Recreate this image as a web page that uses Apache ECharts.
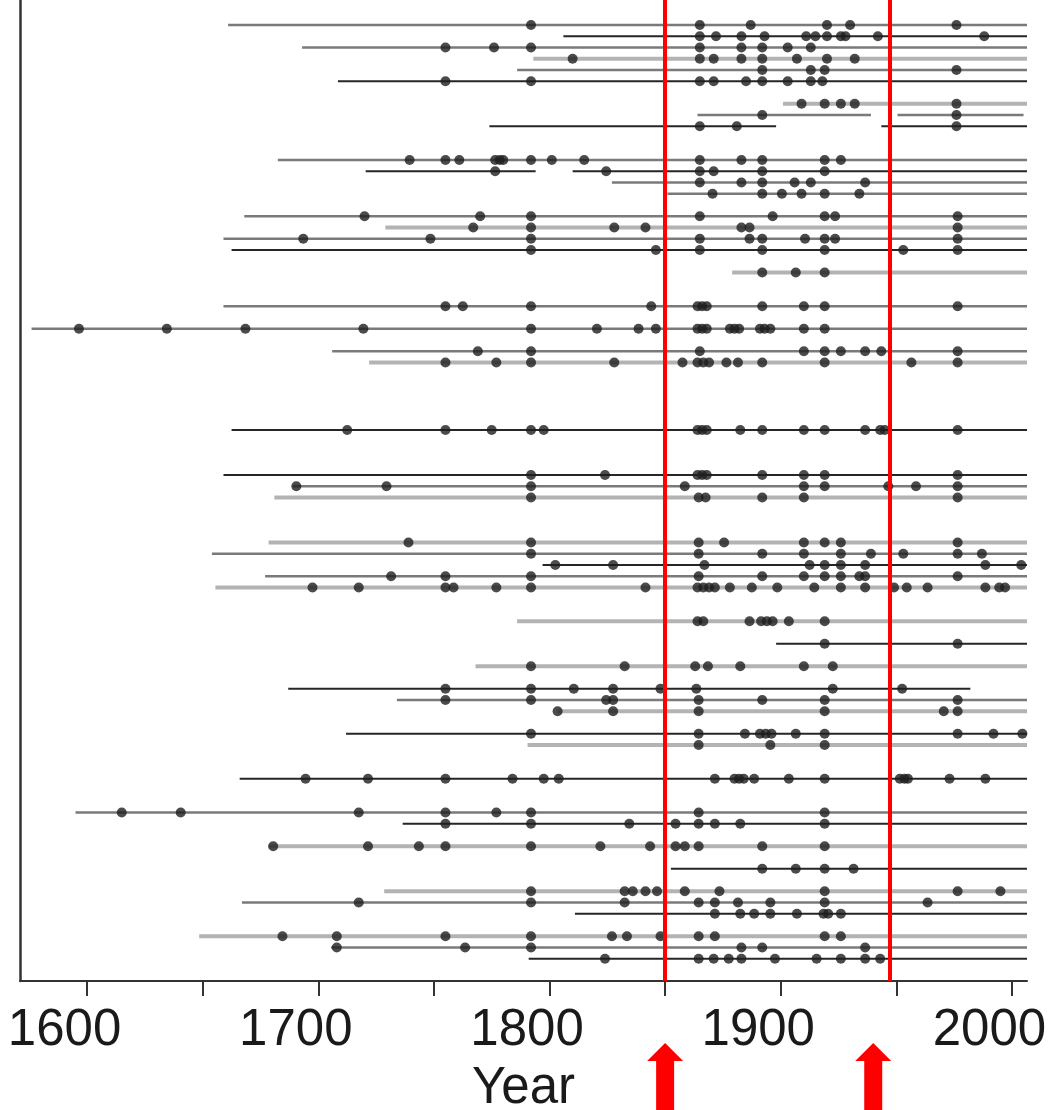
<!DOCTYPE html>
<html><head><meta charset="utf-8">
<script src="https://cdn.jsdelivr.net/npm/echarts@6/dist/echarts.min.js"></script>
<style>html,body{margin:0;padding:0;background:#fff;overflow:hidden}#c{width:1056px;height:1110px}</style>
</head><body><div id="c"></div>
<script>
// ---- data ----
const xTickValues = [1600,1650,1700,1750,1800,1850,1900,1950,2000];
const xLabelValues = [1600,1700,1800,1900,2000];
const refLineYears = [1850, 1947];
const arrowYears = [1850, 1940];

const rowSlot = [0,1,2,3,4,5,7,8,9,12,13,14,15,17,18,19,20,22,25,27,29,30,36,40,41,42,46,47,48,49,50,53,55,57,59,60,61,63,64,67,70,71,73,75,77,78,79,81,82,83];
const rowTone = ['M','D','M','L','M','D','L','M','D',
  'M','D','M','M','M','L','M','D','L',
  'M','M','M','L','D',
  'D','M','L','L','M','D','M','L',
  'L','D','L','D','M','L','D','L',
  'D','M','D','L','D','L','M','D','L','M','D'];
const rowSegments = [
  [[1661,2006.5]],
  [[1806,2006.5]],
  [[1693,2006.5]],
  [[1793,2006.5]],
  [[1786,2006.5]],
  [[1708.5,2006.5]],
  [[1901,2006.5]],
  [[1864,1939],[1950.5,2005]],
  [[1774,1898],[1943.5,2006.5]],
  [[1682.5,2006.5]],
  [[1720.5,1794],[1810,2006.5]],
  [[1827,2006.5]],
  [[1851,2006.5]],
  [[1668,2006.5]],
  [[1729,2006.5]],
  [[1659,2006.5]],
  [[1662.5,2006.5]],
  [[1879,2006.5]],
  [[1659,2006.5]],
  [[1576,2006.5]],
  [[1706,2006.5]],
  [[1722,2006.5]],
  [[1662.5,2006.5]],
  [[1659,2006.5]],
  [[1689,2006.5]],
  [[1681,2006.5]],
  [[1678.5,2006.5]],
  [[1654,2006.5]],
  [[1797,2006.5]],
  [[1677,2006.5]],
  [[1655.5,2006.5]],
  [[1786,2006.5]],
  [[1898,2006.5]],
  [[1768,2006.5]],
  [[1687,1982]],
  [[1734,2006.5]],
  [[1803.5,2006.5]],
  [[1712,2006.5]],
  [[1790.5,2006.5]],
  [[1666,2006.5]],
  [[1595,2006.5]],
  [[1736.5,2006.5]],
  [[1678.5,2006.5]],
  [[1852.5,2006.5]],
  [[1728.5,2006.5]],
  [[1667,2006.5]],
  [[1811,2006.5]],
  [[1648.5,2006.5]],
  [[1705.5,2006.5]],
  [[1791,2006.5]]
];
const rowDots = [
  [1792,1865,1887,1920,1930,1976],
  [1865,1872,1883,1893,1911,1915,1920,1926,1928,1942,1988],
  [1755,1776,1792,1865,1883,1892,1903,1913],
  [1810,1865,1871,1883,1892,1907,1920,1932],
  [1892,1913,1919,1976],
  [1755,1792,1865,1871,1885,1892,1903,1913,1918],
  [1909,1919,1926,1932,1976],
  [1892,1976],
  [1865,1881,1976],
  [1739.5,1755,1761,1776.5,1778.5,1780,1792,1801,1815,1865,1883,1892,1919,1926],
  [1776.5,1824.5,1865,1871,1892,1919],
  [1865,1883,1892,1906,1913,1936.5],
  [1870.5,1892,1900.5,1909,1919,1934],
  [1720,1770,1792,1865,1896.5,1919,1923.5,1976.5],
  [1767,1792,1828,1841.5,1883,1886.5,1976.5],
  [1693.5,1748.5,1792,1865,1886.5,1892,1910.5,1919,1923.5,1976.5],
  [1792,1846,1865,1892,1919,1953,1976.5],
  [1892,1906.5,1919],
  [1755,1762.5,1792,1844,1864,1866,1868,1892,1910,1919,1976.5],
  [1596.5,1634.5,1668.5,1719.5,1792,1820.5,1838.5,1846,1864,1866,1868,1878,1880,1882,1891,1893,1895.5,1910,1919],
  [1769,1792,1865,1910,1919,1926,1936.5,1943.5,1976.5],
  [1755,1777,1792,1828,1857.5,1864,1866.5,1869,1876.5,1881.5,1892,1919,1956.5,1976.5],
  [1712.5,1755,1775,1792,1797.5,1864,1866,1868,1882.5,1892,1910,1919,1936.5,1943,1945,1976.5],
  [1792,1824,1864,1866,1868,1892,1910,1919,1976.5],
  [1690.5,1729.5,1792,1858.5,1910,1919,1946.5,1958.5,1976.5],
  [1792,1864.5,1867.5,1892,1910,1976.5],
  [1739,1792,1864.5,1875.5,1910,1919,1926,1976.5],
  [1792,1864.5,1892,1910,1926,1939,1953,1976.5,1987],
  [1802.5,1827.5,1867,1912.5,1919,1926,1936.5,1988.5,2004],
  [1731.5,1755,1792,1864.5,1892,1910,1919,1926,1934,1936.5,1976.5],
  [1697.5,1717.5,1755,1758.5,1777,1792,1841.5,1864,1866.5,1869,1871.5,1878,1887.5,1898.5,1914.5,1926,1936.5,1949,1954.5,1963.5,1988.5,1994.5,1997],
  [1864,1866.5,1886.5,1891.5,1894,1896.5,1903.5,1919],
  [1919,1976.5],
  [1792,1832.5,1863,1868.5,1882.5,1910,1922.5],
  [1755,1792,1810.5,1827.5,1848,1863.5,1922.5,1952.5],
  [1755,1792,1824.5,1827.5,1864.5,1892,1919,1976.5],
  [1803.5,1827.5,1864.5,1919,1970.5,1976.5],
  [1792,1864.5,1884.5,1891,1893.5,1896,1906.5,1919,1976.5,1992,2004.5],
  [1864.5,1895.5,1919],
  [1694.5,1721.5,1755,1784,1797.5,1804,1871.5,1880,1882,1884,1888.5,1903.5,1919,1951.5,1953.5,1955,1973,1988.5],
  [1615,1640.5,1717.5,1755,1777,1792,1864.5,1919],
  [1755,1792,1834.5,1854.5,1864.5,1871.5,1882.5,1919],
  [1680.5,1721.5,1743.5,1755,1792,1822,1843.5,1854.5,1858.5,1864.5,1892,1919],
  [1892,1906.5,1919,1931.5],
  [1792,1832.5,1836,1841.5,1846.5,1858.5,1873.5,1919,1976.5,1995],
  [1717.5,1792,1832.5,1864.5,1871.5,1881.5,1895.5,1919,1963.5],
  [1871.5,1882.5,1888.5,1895.5,1907,1918.5,1920.5,1926],
  [1684.5,1708,1755,1792,1827,1833.5,1848,1864.5,1871.5,1919,1926],
  [1708,1763.5,1792,1883,1892,1936.5],
  [1824,1864.5,1871,1877.5,1883,1897.5,1915.5,1926,1936.5,1943]
];

// ---- styles ----
const toneStyle = {
  L: {color: '#b3b3b3', width: 4},
  M: {color: '#7a7a7a', width: 2.5},
  D: {color: '#262626', width: 2}
};
const toneKeys = ['L','M','D'];

const segData = [];
const dotData = [];
rowSlot.forEach((slot, i) => {
  rowSegments[i].forEach(s => segData.push([s[0], s[1], slot, toneKeys.indexOf(rowTone[i])]));
  rowDots[i].forEach(y => dotData.push([y, slot]));
});

const chart = echarts.init(document.getElementById('c'), null, {renderer: 'canvas', width: 1056, height: 1110});
const FONT = 'Liberation Sans, Arial, sans-serif';
chart.setOption({
  animation: false,
  backgroundColor: '#ffffff',
  grid: {left: 20, right: 29, top: 0, bottom: 129, containLabel: false, outerBoundsMode: 'none'},
  xAxis: {
    type: 'value', min: 1571, max: 2006.5,
    name: 'Year', nameLocation: 'middle', nameGap: 82,
    nameTextStyle: {fontFamily: FONT, fontSize: 51, color: '#1a1a1a'},
    axisLine: {show: true, onZero: false, lineStyle: {color: '#333', width: 2}},
    axisTick: {show: true, length: 15, customValues: xTickValues, lineStyle: {color: '#333', width: 2}},
    axisLabel: {customValues: xLabelValues, formatter: v => String(v), fontFamily: FONT, fontSize: 51, color: '#1a1a1a',
      margin: 24, padding: [0, 45, 0, 0]},
    splitLine: {show: false}
  },
  yAxis: {
    type: 'value', inverse: true, min: -2.222, max: 84.978,
    axisLine: {show: true, onZero: false, lineStyle: {color: '#333', width: 2.5}},
    axisTick: {show: false}, axisLabel: {show: false}, splitLine: {show: false}
  },
  series: [
    {
      type: 'custom', data: segData, encode: {x: [0, 1], y: 2}, z: 2, silent: true,
      renderItem: (params, api) => {
        const a = api.coord([api.value(0), api.value(2)]);
        const b = api.coord([api.value(1), api.value(2)]);
        const st = toneStyle[toneKeys[api.value(3)]];
        return {type: 'line', shape: {x1: a[0], y1: a[1], x2: b[0], y2: b[1]},
          style: {stroke: st.color, lineWidth: st.width}};
      }
    },
    {
      type: 'scatter', data: dotData, symbol: 'circle', symbolSize: 10, z: 3, silent: true,
      itemStyle: {color: '#1e1e1e'}
    },
    {
      type: 'line', data: [], z: 5, silent: true,
      markLine: {
        silent: true, symbol: ['none', 'none'], label: {show: false},
        lineStyle: {color: '#ff0000', width: 4, type: 'solid'},
        data: refLineYears.map(v => ({xAxis: v}))
      }
    }
  ]
});

// arrows below the axis, positioned from year values
const arrows = arrowYears.map(yr => {
  const x = chart.convertToPixel({xAxisIndex: 0}, yr);
  const tip = 1043, base = 1061, bottom = 1112, hw = 18, sw = 9;
  return {
    type: 'polygon', silent: true,
    shape: {points: [[x, tip], [x + hw, base], [x + sw, base], [x + sw, bottom], [x - sw, bottom], [x - sw, base], [x - hw, base]]},
    style: {fill: '#ff0000'}
  };
});
chart.setOption({graphic: arrows});
</script>
</body></html>
